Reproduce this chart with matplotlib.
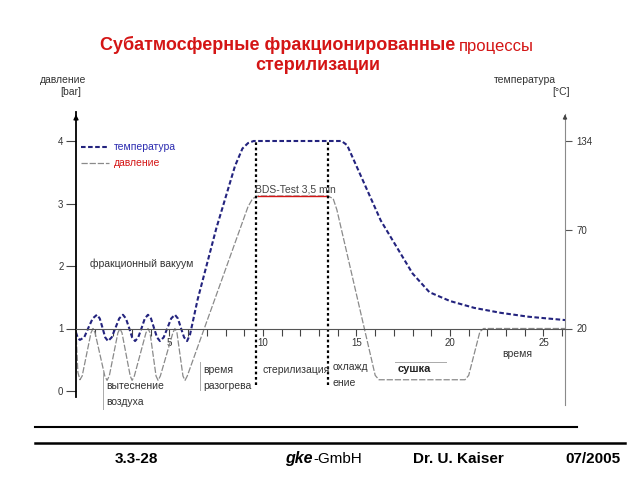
import numpy as np
import matplotlib.pyplot as plt

plt.rcParams["font.family"] = ["Liberation Sans", "DejaVu Sans"]

# давление, bar (время в мин)
p_time = [0.0, 0.1, 0.21, 0.33, 0.8, 0.91, 1.02, 1.54, 1.66, 1.78, 2.24, 2.35, 2.46,
          2.9, 3.0, 3.12, 3.74, 3.85, 3.96, 4.28, 4.39, 4.51, 5.18, 5.29, 5.4,
          5.72, 5.83, 5.95, 6.8, 9.2, 9.45, 9.75, 13.45, 13.75, 13.95, 16.0,
          16.2, 20.8, 21.0, 21.6, 21.8, 26.15]
p_bar = [0.97, 0.3, 0.18, 0.24, 0.93, 1.0, 0.93, 0.24, 0.17, 0.24, 0.93, 1.0, 0.93,
         0.24, 0.17, 0.24, 0.93, 1.0, 0.93, 0.24, 0.17, 0.24, 0.93, 1.0, 0.93,
         0.24, 0.17, 0.24, 0.95, 2.95, 3.08, 3.12, 3.12, 3.08, 2.9, 0.25,
         0.18, 0.18, 0.25, 0.95, 1.0, 1.0]

# температура, °C
t_time = [0.0, 0.1, 0.21, 0.44, 0.66, 0.89, 1.12, 1.27, 1.42, 1.56, 1.71,
          1.91, 2.11, 2.31, 2.51, 2.67, 2.84, 3.0, 3.16, 3.33, 3.51, 3.68, 3.85,
          4.01, 4.17, 4.33, 4.49, 4.69, 4.89, 5.09, 5.29, 5.45, 5.61, 5.78, 5.94,
          6.1, 6.5, 7.5, 8.5, 8.9, 9.2, 9.5, 14.2, 14.5, 16.3, 18.0, 18.9,
          20.0, 21.3, 22.7, 24.2, 26.15]
t_temp = [18.0, 15.0, 14.2, 15.5, 20.3, 25.1, 27.0, 25.1, 20.3, 15.5, 13.6,
          15.5, 20.3, 25.1, 27.0, 25.1, 20.3, 15.5, 13.6, 15.5, 20.3, 25.1, 27.0,
          25.1, 20.3, 15.5, 13.6, 15.5, 20.3, 25.1, 27.0, 25.1, 20.3, 15.5, 13.6,
          17.0, 34.6, 71.3, 116.0, 128.6, 132.5, 134.0, 134.0, 131.0, 77.0, 48.0, 38.5,
          34.0, 30.5, 28.0, 26.0, 24.3]

bds_idx = (31, 33)          # плато BDS-теста в p_time
phase_lines = [9.6, 13.5]   # начало / конец стерилизации
time_ticks = [5, 10, 15, 20, 25]
bar_ticks = [0, 1, 2, 3, 4]
temp_ticks = [20, 70, 134]

# шкала температуры на схеме не линейная
lvl_ref = [-1.0, 1.0, 2.57, 4.0, 6.0]
temp_ref = [-43.7, 20.0, 70.0, 134.0, 223.5]


def lvl2temp(v):
    return np.interp(v, lvl_ref, temp_ref)


def temp2lvl(v):
    return np.interp(v, temp_ref, lvl_ref)


fig = plt.figure(figsize=(6.4, 4.8), dpi=100)
ax = fig.add_axes([76 / 640, 1 - 410 / 480, 489 / 640, 298 / 480])
ax.set_xlim(0, 26.15)
ax.set_ylim(-0.304, 4.464)

navy = "#23237e"
gray = "#8a8a8a"
red = "#d41515"

# кривые
ax.plot(t_time, temp2lvl(np.array(t_temp)), color=navy, lw=1.5,
        linestyle=(0, (2.2, 1.2)), label="температура")
ax.plot(p_time, p_bar, color=gray, lw=0.9, linestyle=(0, (5, 1.5)), label="давление")
ax.plot(p_time[bds_idx[0]:bds_idx[1]], p_bar[bds_idx[0]:bds_idx[1]], color=red, lw=1)
for x in phase_lines:
    ax.plot([x, x], [0.1, 4.02], color="black", lw=1.6, linestyle=(0, (1.2, 1.2)))

# оси
for s in ["top", "right"]:
    ax.spines[s].set_visible(False)
ax.spines["left"].set_bounds(-0.1, 4.46)
ax.spines["left"].set_linewidth(1.3)
ax.spines["bottom"].set_position(("data", 1))
ax.spines["bottom"].set_color("#555555")
ax.set_yticks(bar_ticks)
ax.tick_params(axis="y", length=7, width=0.8, labelsize=7, pad=2, color="#444444",
               labelcolor="#333333")
ax.set_xticks(time_ticks)
ax.set_xticks(range(1, 27), minor=True)
ax.tick_params(axis="x", which="both", length=5, width=0.8, labelsize=7,
               color="#444444", labelcolor="#333333", pad=2)
ax.annotate("", xy=(0, 4.47), xytext=(0, 4.3),
            arrowprops=dict(arrowstyle="-|>", color="black", lw=1, mutation_scale=7))

sec = ax.secondary_yaxis("right", functions=(lvl2temp, temp2lvl))
sec.set_yticks(temp_ticks)
sec.spines["right"].set_color(gray)
sec.spines["right"].set_bounds(lvl2temp(-0.22), lvl2temp(4.44))
sec.tick_params(length=5, width=0.8, labelsize=7, color="#555555", labelcolor="#333333")
ax.annotate("", xy=(26.15, 4.47), xytext=(26.15, 4.3),
            arrowprops=dict(arrowstyle="-|>", color="#444444", lw=0.8, mutation_scale=6))

# легенда
leg = ax.legend(loc="upper left", bbox_to_anchor=(-0.008, 0.93), frameon=False,
                fontsize=7.5, handlelength=2.6, handletextpad=0.5, labelspacing=0.6,
                labelcolor=[navy, red])
leg.get_texts()[0].set_color("#2b2bb0")

# подписи фаз
txt = dict(fontsize=7.5, color="#333333")
ax.text(9.55, 3.22, "BDS-Test 3,5 min", va="center", fontsize=7.5, color="#444444")
ax.text(0.75, 2.03, "фракционный вакуум", va="center", **txt)
ax.text(1.6, -0.05, "вытеснение\nвоздуха", va="center", linespacing=1.7, **txt)
ax.plot([1.44, 1.44], [0.34, -0.3], color="#aaaaaa", lw=0.7)
ax.text(6.8, 0.21, "время\nразогрева", va="center", linespacing=1.7, **txt)
ax.plot([6.63, 6.63], [0.46, 0.02], color="#aaaaaa", lw=0.7)
ax.text(10.0, 0.34, "стерилизация", va="center", **txt)
ax.text(13.74, 0.26, "охлажд\nение", va="center", linespacing=1.7, **txt)
ax.text(17.2, 0.35, "сушка", va="center", fontsize=8, color="#222222", weight="bold")
ax.plot([17.06, 19.8], [0.47, 0.47], color="#aaaaaa", lw=0.7)
ax.text(22.8, 0.59, "время", va="center", **txt)

fig.text(40 / 640, 1 - 80 / 480, "давление", fontsize=7.5, va="center", color="#333333")
fig.text(60 / 640, 1 - 92 / 480, "[bar]", fontsize=7.5, va="center", color="#333333")
fig.text(556 / 640, 1 - 80 / 480, "температура", fontsize=7.5, va="center",
         ha="right", color="#333333")
fig.text(570 / 640, 1 - 92 / 480, "[°C]", fontsize=7.5, va="center", ha="right",
         color="#333333")

# заголовок
fig.text(455 / 640, 1 - 45 / 480, "Субатмосферные фракционированные", ha="right",
         va="center", fontsize=13, weight="bold", color=red)
fig.text(459 / 640, 1 - 46 / 480, "процессы", ha="left", va="center",
         fontsize=12, color=red)
fig.text(318 / 640, 1 - 66 / 480, "стерилизации", ha="center", va="center",
         fontsize=13, weight="bold", color=red)

# подвал
fig.add_artist(plt.Line2D([35 / 640, 577 / 640], [1 - 427 / 480] * 2, color="black", lw=1.5))
fig.add_artist(plt.Line2D([35 / 640, 625 / 640], [1 - 443 / 480] * 2, color="black", lw=1.8))
foot_y = 1 - 459 / 480
fig.text(115 / 640, foot_y, "3.3-28", fontsize=11, weight="bold", va="center")
fig.text(285 / 640, foot_y, "gke", fontsize=11.5, weight="bold", style="italic", va="center")
fig.text(313 / 640, foot_y, "-GmbH", fontsize=11, va="center")
fig.text(413 / 640, foot_y, "Dr. U. Kaiser", fontsize=11, weight="bold", va="center")
fig.text(565 / 640, foot_y, "07/2005", fontsize=11, weight="bold", va="center")

fig.savefig("out.png", dpi=100)
